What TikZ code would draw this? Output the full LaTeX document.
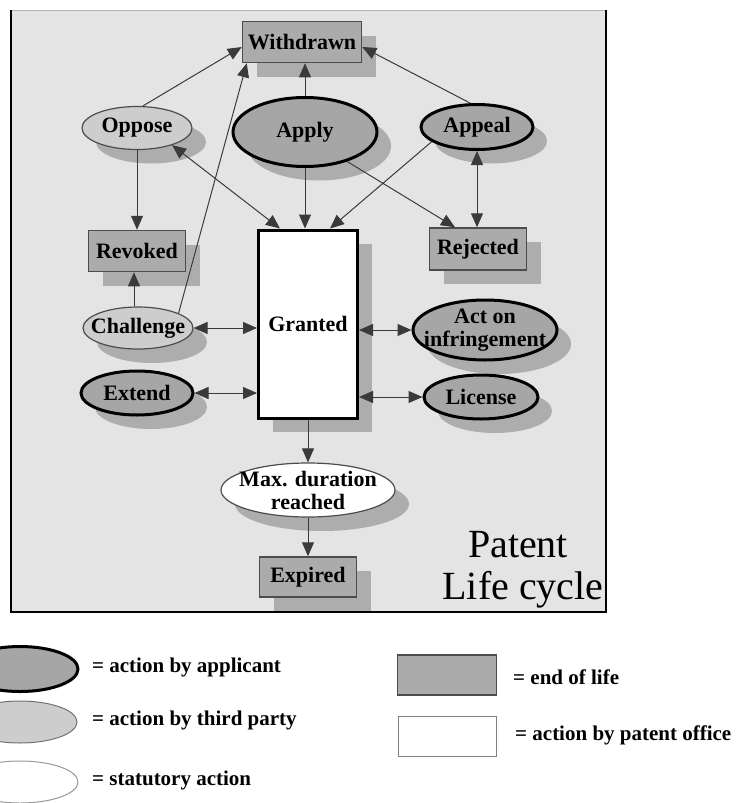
\documentclass[tikz,border=0pt]{standalone}
\usepackage{fontspec}
\setmainfont{Liberation Serif}
\usetikzlibrary{shapes.geometric,shadows,arrows.meta}

\definecolor{bgpanel}{HTML}{E4E4E4}
\definecolor{applicantfill}{HTML}{A6A6A6}
\definecolor{thirdfill}{HTML}{CDCDCD}
\definecolor{endfill}{HTML}{ABABAB}
\definecolor{shadowgray}{HTML}{ADADAD}
\definecolor{linegray}{HTML}{3A3A3A}

\tikzset{
  sh/.style={drop shadow={shadow xshift=14pt, shadow yshift=-14pt, fill=shadowgray, opacity=1}},
  lbl/.style={font=\fontsize{22}{23}\selectfont\bfseries, text=black, inner sep=0pt, align=center},
  applicantshape/.style={ellipse, draw=black, line width=3pt, fill=applicantfill, inner sep=0pt},
  thirdshape/.style={ellipse, draw=black!70, line width=1.2pt, fill=thirdfill, inner sep=0pt},
  statshape/.style={ellipse, draw=black!70, line width=1.2pt, fill=white, inner sep=0pt},
  endshape/.style={rectangle, draw=black!70, line width=1.5pt, fill=endfill, inner sep=0pt},
  officeshape/.style={rectangle, draw=black, line width=3pt, fill=white, inner sep=0pt},
  applicant/.style={applicantshape, sh},
  thirdparty/.style={thirdshape, sh},
  statutory/.style={statshape, sh},
  endlife/.style={endshape, sh},
  office/.style={officeshape, sh},
  tip/.tip={Triangle[length=14pt,width=12pt]},
  link/.style={draw=linegray, line width=1pt, -tip},
  bilink/.style={draw=linegray, line width=1pt, tip-tip},
  legendtext/.style={font=\fontsize{21}{24}\selectfont\bfseries, anchor=west, inner sep=0pt},
  titletext/.style={font=\fontsize{40}{44}\selectfont, inner sep=0pt},
}

\begin{document}
\begin{tikzpicture}[x=1pt,y=-1pt]
\useasboundingbox (0,0) rectangle (743,803);

% panel with its frame
\fill[bgpanel] (11,10) rectangle (606,612);
\draw[black!30, line width=1pt] (11,10) -- (606,10);
\draw[black, line width=2.5pt] (11,10) -- (11,612) -- (606,612) -- (606,10);

% states and actions
\node[endlife, minimum width=119pt, minimum height=41pt] (w) at (302,42) {};
\node[lbl] (wt) at (w.center) {Withdrawn};
\node[applicant, minimum width=144pt, minimum height=69pt] (ap) at (305,132) {};
\node[lbl] (apt) at (ap.center) {Apply};
\node[thirdparty, minimum width=110pt, minimum height=43pt] (op) at (137,128) {};
\node[lbl] (opt) at (op.center) {Oppose};
\node[applicant, minimum width=112pt, minimum height=45pt] (apl) at (477,127) {};
\node[lbl] (aplt) at (apl.center) {Appeal};
\node[endlife, minimum width=97pt, minimum height=41pt] (rv) at (137,251) {};
\node[lbl] (rvt) at (rv.center) {Revoked};
\node[endlife, minimum width=97pt, minimum height=42pt] (rj) at (478,249) {};
\node[lbl] (rjt) at (rj.center) {Rejected};
\node[office, minimum width=99pt, minimum height=188pt] (gr) at (308,324) {};
\node[lbl] (grt) at (gr.center) {Granted};
\node[thirdparty, minimum width=110pt, minimum height=42pt] (ch) at (138,328) {};
\node[lbl] (cht) at (ch.center) {Challenge};
\node[applicant, minimum width=112pt, minimum height=44pt] (ex) at (137,393) {};
\node[lbl] (ext) at (ex.center) {Extend};
\node[applicant, minimum width=144pt, minimum height=60pt] (ai) at (485,330) {};
\node[lbl] (ait) at (ai.center) {Act on\\infringement};
\node[applicant, minimum width=114pt, minimum height=44pt] (li) at (481,397) {};
\node[lbl] (lit) at (li.center) {License};
\node[statutory, minimum width=174pt, minimum height=54pt] (mx) at (308,490) {};
\node[lbl] (mxt) at (mx.center) {Max. duration\\reached};
\node[endlife, minimum width=97pt, minimum height=40pt] (xp) at (308,577) {};
\node[lbl] (xpt) at (xp.center) {Expired};

\node[titletext] (t1) at (518,545) {Patent};
\node[titletext] (t2) at (523,590) {Life cycle};

% transitions
\draw[link] ([xshift=6pt]op.north) -- ([yshift=-5pt]w.west);
\draw[link] (ap.north) -- (ap.north |- w.south);
\draw[link] ([xshift=-7pt]apl.north) -- ([yshift=-5pt]w.east);
\draw[link] (ch.20) -- ([xshift=5pt]w.south west);
\draw[bilink] (op.-26) -- ([xshift=-28pt]gr.north);
\draw[link] (ap.south) -- (ap.south |- gr.north);
\draw[link] (apl.-162) -- ([xshift=22pt]gr.north);
\draw[link] (ap.-35) -- ([xshift=-23pt]rj.north);
\draw[bilink] (apl.south) -- (apl.south |- rj.north);
\draw[link] (op.south) -- (op.south |- rv.north);
\draw[link] ([xshift=-4pt]ch.north) -- ([xshift=-4pt]ch.north |- rv.south);
\draw[bilink] (ch.east) -- (ch.east -| gr.west);
\draw[bilink] (ex.east) -- (ex.east -| gr.west);
\draw[bilink] (ai.west -| gr.east) -- (ai.west);
\draw[bilink] (li.west -| gr.east) -- (li.west);
\draw[link] (gr.south) -- (mx.north);
\draw[link] (mx.south) -- (xp.north);

% key
\node[applicantshape, minimum width=116pt, minimum height=45pt] (ka) at (20,669) {};
\node[thirdshape, draw=black!55, line width=1pt, minimum width=114pt, minimum height=42pt] (kt) at (20,722) {};
\node[statshape, draw=black!40, line width=1pt, minimum width=116pt, minimum height=42pt] (ks) at (20,782) {};
\node[legendtext] (kat) at (92,667) {= action by applicant};
\node[legendtext] (ktt) at (92,720) {= action by third party};
\node[legendtext] (kst) at (92,780) {= statutory action};
\node[endshape, minimum width=99pt, minimum height=40pt] (ke) at (447,675) {};
\node[rectangle, draw=black!50, line width=1pt, fill=white, minimum width=98pt, minimum height=40pt] (ko) at (447,736) {};
\node[legendtext] (ket) at (513,677) {= end of life};
\node[legendtext] (kot) at (515,735) {= action by patent office};
\end{tikzpicture}
\end{document}
